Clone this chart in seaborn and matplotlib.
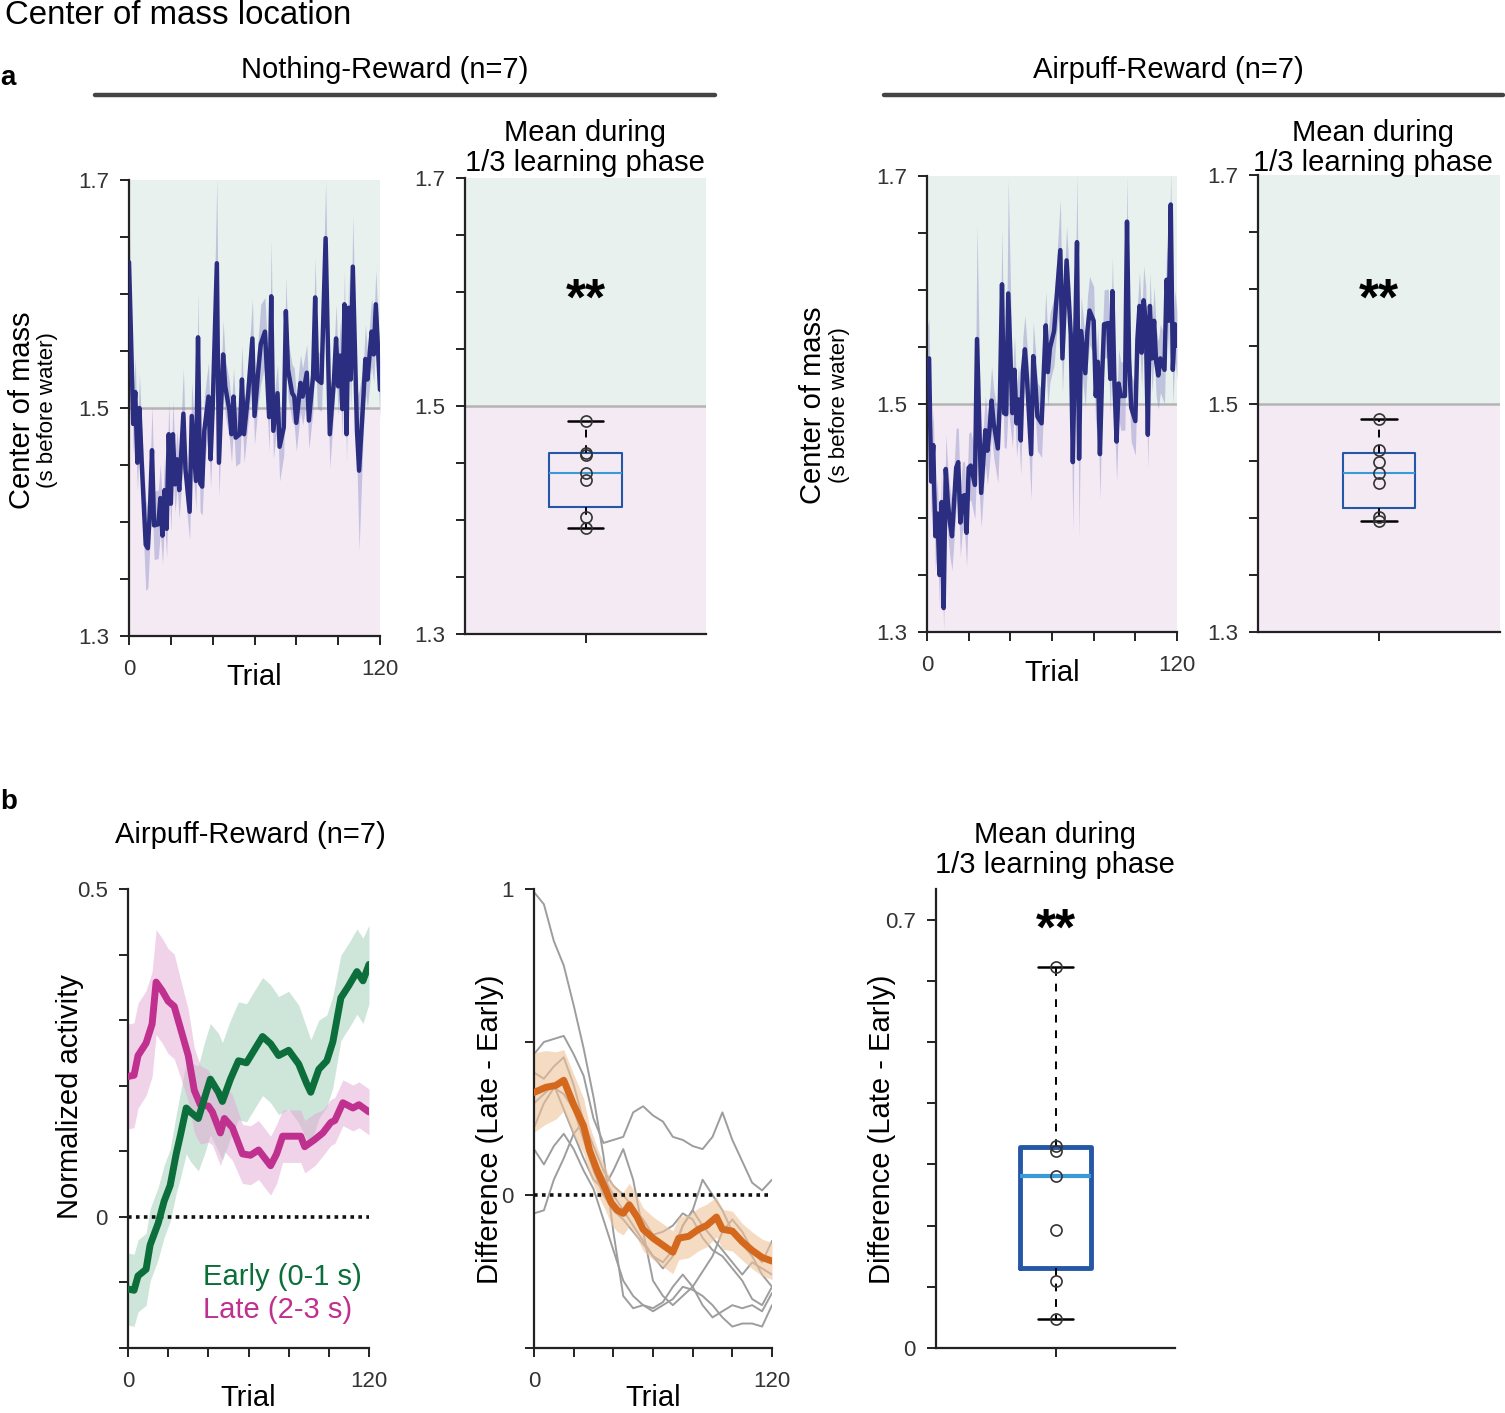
import numpy as np
import pandas as pd
import matplotlib
matplotlib.use("Agg")
import matplotlib.pyplot as plt
import seaborn as sns
from matplotlib.lines import Line2D

# --- data: panel a, center of mass per trial (mean and sem) ---
nr_trial = [0, 1, 2, 3, 4, 5, 6, 8, 9, 10,
            11, 12, 14, 15, 16, 17, 18, 19, 20, 21,
            22, 23, 24, 26, 27, 29, 30, 32, 33, 34,
            35, 36, 38, 39, 40, 42, 43, 45, 46, 48,
            49, 50, 51, 53, 54, 55, 57, 59, 60, 62,
            63, 65, 67, 68, 69, 71, 72, 74, 75, 76,
            78, 79, 80, 82, 83, 85, 86, 88, 89, 90,
            92, 94, 96, 98, 99, 100, 101, 102, 103, 104,
            105, 106, 107, 109, 110, 112, 113, 114, 116, 117,
            118, 120]
nr_mean = [1.628, 1.560, 1.486, 1.514, 1.452, 1.500, 1.455, 1.380, 1.377, 1.410,
           1.463, 1.397, 1.398, 1.421, 1.388, 1.428, 1.394, 1.477, 1.416, 1.477,
           1.433, 1.455, 1.428, 1.495, 1.446, 1.409, 1.493, 1.436, 1.562, 1.434,
           1.431, 1.480, 1.510, 1.455, 1.500, 1.627, 1.452, 1.547, 1.519, 1.498,
           1.477, 1.510, 1.474, 1.477, 1.525, 1.477, 1.513, 1.561, 1.493, 1.537,
           1.556, 1.567, 1.492, 1.598, 1.480, 1.513, 1.466, 1.483, 1.585, 1.534,
           1.513, 1.510, 1.487, 1.522, 1.510, 1.531, 1.489, 1.528, 1.597, 1.525,
           1.522, 1.649, 1.477, 1.525, 1.561, 1.519, 1.546, 1.499, 1.591, 1.477,
           1.588, 1.525, 1.624, 1.480, 1.445, 1.507, 1.543, 1.525, 1.567, 1.547,
           1.591, 1.516]
nr_sem = [0.045, 0.03, 0.025, 0.03, 0.025, 0.03, 0.03, 0.04, 0.035, 0.03,
          0.04, 0.03, 0.03, 0.03, 0.025, 0.03, 0.025, 0.03, 0.025, 0.03,
          0.025, 0.025, 0.025, 0.04, 0.025, 0.025, 0.03, 0.025, 0.04, 0.025,
          0.025, 0.03, 0.03, 0.025, 0.025, 0.075, 0.03, 0.03, 0.025, 0.025,
          0.025, 0.025, 0.025, 0.025, 0.03, 0.025, 0.025, 0.035, 0.025, 0.03,
          0.035, 0.03, 0.03, 0.05, 0.025, 0.025, 0.03, 0.025, 0.03, 0.025,
          0.025, 0.025, 0.025, 0.025, 0.025, 0.025, 0.025, 0.03, 0.035, 0.025,
          0.025, 0.05, 0.03, 0.025, 0.03, 0.025, 0.03, 0.025, 0.03, 0.025,
          0.03, 0.025, 0.045, 0.03, 0.07, 0.03, 0.03, 0.025, 0.03, 0.025,
          0.03, 0.025]

ar_trial = [0, 1, 2, 3, 4, 5, 6, 7, 8, 9,
            10, 11, 12, 14, 15, 16, 17, 18, 19, 20,
            21, 23, 24, 26, 28, 29, 30, 31, 32, 34,
            35, 36, 37, 38, 39, 41, 42, 43, 44, 45,
            46, 47, 48, 50, 51, 52, 53, 55, 57, 58,
            59, 61, 62, 64, 65, 67, 69, 70, 71, 72,
            73, 74, 76, 77, 78, 80, 81, 82, 83, 84,
            85, 87, 88, 89, 90, 91, 92, 93, 95, 96,
            97, 98, 100, 101, 102, 103, 104, 105, 106, 107,
            108, 109, 110, 111, 112, 114, 115, 116, 117, 118,
            119, 120]
ar_mean = [1.536, 1.540, 1.432, 1.464, 1.384, 1.404, 1.350, 1.414, 1.321, 1.443,
           1.414, 1.396, 1.384, 1.444, 1.449, 1.396, 1.419, 1.420, 1.387, 1.444,
           1.446, 1.429, 1.557, 1.422, 1.477, 1.459, 1.477, 1.503, 1.483, 1.461,
           1.504, 1.605, 1.492, 1.491, 1.597, 1.492, 1.530, 1.483, 1.504, 1.468,
           1.528, 1.548, 1.522, 1.456, 1.542, 1.519, 1.489, 1.483, 1.569, 1.528,
           1.549, 1.564, 1.588, 1.635, 1.540, 1.626, 1.561, 1.449, 1.546, 1.642,
           1.452, 1.564, 1.527, 1.564, 1.582, 1.573, 1.507, 1.537, 1.456, 1.522,
           1.570, 1.571, 1.522, 1.599, 1.516, 1.467, 1.518, 1.507, 1.507, 1.660,
           1.540, 1.497, 1.485, 1.557, 1.586, 1.545, 1.591, 1.573, 1.473, 1.586,
           1.540, 1.573, 1.537, 1.525, 1.540, 1.530, 1.609, 1.573, 1.675, 1.530,
           1.570, 1.551]
ar_sem = [0.03, 0.035, 0.03, 0.03, 0.03, 0.03, 0.03, 0.03, 0.02, 0.03,
          0.03, 0.03, 0.03, 0.035, 0.03, 0.03, 0.03, 0.03, 0.03, 0.03,
          0.03, 0.03, 0.1, 0.03, 0.03, 0.03, 0.03, 0.03, 0.03, 0.03,
          0.03, 0.05, 0.03, 0.03, 0.1, 0.03, 0.03, 0.03, 0.03, 0.03,
          0.03, 0.03, 0.03, 0.04, 0.03, 0.03, 0.03, 0.03, 0.03, 0.03,
          0.03, 0.03, 0.03, 0.045, 0.03, 0.03, 0.03, 0.06, 0.03, 0.06,
          0.07, 0.03, 0.03, 0.03, 0.03, 0.03, 0.03, 0.03, 0.04, 0.03,
          0.03, 0.03, 0.03, 0.03, 0.03, 0.035, 0.03, 0.03, 0.03, 0.04,
          0.03, 0.03, 0.03, 0.03, 0.03, 0.03, 0.03, 0.03, 0.03, 0.03,
          0.03, 0.03, 0.03, 0.03, 0.03, 0.03, 0.03, 0.03, 0.03, 0.03,
          0.03, 0.03]

# per-mouse means during 1/3 learning phase
nr_box = [1.487, 1.459, 1.457, 1.441, 1.435, 1.403, 1.393]
ar_box = [1.486, 1.459, 1.4485, 1.439, 1.430, 1.401, 1.397]

# --- data: panel b ---
early_trial = [0, 3, 5, 9, 11, 15, 18, 21, 24, 26, 29, 31, 35, 38, 41, 45, 47, 51,
               55, 59, 62, 67, 71, 75, 80, 85, 89, 91, 95, 99, 102, 106, 110, 114,
               117, 120]
early_mean = [-0.110, -0.112, -0.090, -0.080, -0.043, -0.010, 0.024, 0.048, 0.096,
              0.123, 0.166, 0.160, 0.150, 0.180, 0.210, 0.190, 0.176, 0.210, 0.238,
              0.235, 0.250, 0.275, 0.264, 0.246, 0.254, 0.233, 0.203, 0.190, 0.225,
              0.238, 0.267, 0.334, 0.353, 0.374, 0.360, 0.385]
early_sem = [0.055, 0.055, 0.055, 0.055, 0.055, 0.055, 0.055, 0.055, 0.06, 0.065,
             0.07, 0.075, 0.08, 0.085, 0.085, 0.09, 0.09, 0.09, 0.09, 0.09, 0.09,
             0.09, 0.09, 0.09, 0.09, 0.09, 0.085, 0.08, 0.075, 0.07, 0.07, 0.065,
             0.065, 0.065, 0.065, 0.06]

late_trial = [0, 3, 5, 9, 12, 14, 17, 20, 23, 26, 30, 33, 36, 40, 42, 46, 48, 52,
              57, 61, 65, 71, 74, 77, 82, 86, 88, 93, 97, 101, 103, 107, 112, 115,
              120]
late_mean = [0.214, 0.216, 0.246, 0.265, 0.294, 0.358, 0.345, 0.329, 0.321, 0.289,
             0.246, 0.193, 0.171, 0.169, 0.160, 0.128, 0.150, 0.136, 0.096, 0.094,
             0.102, 0.078, 0.096, 0.123, 0.123, 0.123, 0.107, 0.118, 0.128, 0.144,
             0.147, 0.174, 0.166, 0.171, 0.160]
late_sem = [0.08, 0.08, 0.08, 0.08, 0.08, 0.08, 0.08, 0.08, 0.08, 0.075, 0.07,
            0.065, 0.06, 0.055, 0.05, 0.05, 0.05, 0.05, 0.045, 0.045, 0.045, 0.045,
            0.045, 0.04, 0.04, 0.04, 0.04, 0.04, 0.035, 0.035, 0.035, 0.035, 0.035,
            0.035, 0.035]

diff_trial = [0, 6, 11, 15, 20, 25, 28, 32, 36, 39, 42, 45, 48, 52, 55, 60, 65, 70,
              73, 78, 83, 87, 92, 95, 100, 105, 110, 115, 120]
diff_mean = [0.335, 0.352, 0.358, 0.375, 0.295, 0.226, 0.146, 0.077, 0.020, -0.026,
             -0.050, -0.060, -0.032, -0.072, -0.112, -0.141, -0.164, -0.187, -0.141,
             -0.135, -0.112, -0.100, -0.072, -0.112, -0.118, -0.153, -0.181, -0.204,
             -0.216]
diff_sem = [0.13, 0.12, 0.11, 0.10, 0.10, 0.09, 0.08, 0.075, 0.07, 0.07, 0.07, 0.07,
            0.07, 0.07, 0.07, 0.07, 0.07, 0.07, 0.07, 0.07, 0.07, 0.07, 0.065, 0.065,
            0.065, 0.06, 0.06, 0.06, 0.06]

mouse_trial = [0, 5, 10, 15, 20, 25, 30, 35, 40, 45, 50, 55, 60, 65, 70, 75, 80, 85,
               90, 95, 100, 105, 110, 115, 120]
mouse_diff = {
    "m1": [0.99, 0.95, 0.83, 0.75, 0.62, 0.48, 0.32, 0.13, -0.12, -0.33, -0.37, -0.36,
           -0.38, -0.36, -0.34, -0.30, -0.31, -0.33, -0.36, -0.40, -0.43, -0.42, -0.42,
           -0.43, -0.36],
    "m2": [0.46, 0.50, 0.51, 0.52, 0.46, 0.39, 0.25, 0.17, 0.18, 0.19, 0.27, 0.29,
           0.26, 0.24, 0.19, 0.18, 0.16, 0.15, 0.19, 0.27, 0.18, 0.11, 0.04, 0.015, 0.05],
    "m3": [0.40, 0.38, 0.42, 0.45, 0.36, 0.24, 0.12, 0.06, 0.00, -0.05, -0.10, -0.15,
           -0.20, -0.24, -0.20, -0.10, -0.05, 0.05, 0.00, -0.05, -0.12, -0.16, -0.20,
           -0.26, -0.30],
    "m4": [0.30, 0.33, 0.36, 0.28, 0.20, 0.12, 0.05, 0.02, 0.08, 0.15, 0.05, -0.12,
           -0.28, -0.33, -0.36, -0.33, -0.30, -0.25, -0.20, -0.12, -0.08, -0.12, -0.18,
           -0.22, -0.15],
    "m5": [0.15, 0.10, 0.16, 0.20, 0.15, 0.08, 0.02, -0.08, -0.18, -0.28, -0.33, -0.36,
           -0.37, -0.35, -0.30, -0.26, -0.30, -0.36, -0.40, -0.38, -0.36, -0.37, -0.36,
           -0.38, -0.32],
    "m6": [-0.06, -0.05, 0.05, 0.12, 0.20, 0.24, 0.16, 0.08, 0.03, 0.00, -0.04, -0.08,
           -0.13, -0.12, -0.10, -0.06, -0.08, -0.14, -0.18, -0.20, -0.24, -0.28, -0.34,
           -0.36, -0.30],
    "m7": [0.22, 0.30, 0.35, 0.33, 0.28, 0.18, 0.08, 0.00, -0.05, -0.08, -0.12, -0.16,
           -0.20, -0.22, -0.18, -0.10, -0.05, -0.10, -0.14, -0.18, -0.22, -0.26, -0.22,
           -0.24, -0.26],
}
diff_box = [0.623, 0.330, 0.322, 0.281, 0.192, 0.110, 0.048]

# --- colors ---
BG_GREEN = "#e8f1ed"
BG_PINK = "#f4eaf4"
NAVY = "#2b2e80"
BOX_BLUE = "#2557a7"
MED_BLUE = "#3a9ad8"
GREEN = "#0b6e3b"
MAGENTA = "#c0308e"
ORANGE = "#d4691e"

sns.set_theme(style="ticks")
plt.rcParams["font.family"] = ["Liberation Sans", "DejaVu Sans"]
plt.rcParams["text.color"] = "black"
plt.rcParams["axes.labelcolor"] = "black"

W, H = 1505, 1413
fig = plt.figure(figsize=(W / 100, H / 100), dpi=100)


def add_ax(x0, y0, x1, y1):
    return fig.add_axes([x0 / W, 1 - y1 / H, (x1 - x0) / W, (y1 - y0) / H])


def style(ax):
    sns.despine(ax=ax)
    for s in ("left", "bottom"):
        ax.spines[s].set_linewidth(1.6)
        ax.spines[s].set_color("#222222")
    ax.tick_params(direction="out", length=6.5, width=1.4, color="#222222",
                   labelsize=16, labelcolor="#333333", pad=8)
    ax.tick_params(axis="x", pad=10)


def set_ticks(ax, axis, ticks, shown):
    labels = [t if t in shown else "" for t in ticks]
    vals = [float(t) for t in ticks]
    if axis == "x":
        ax.set_xticks(vals, labels)
    else:
        ax.set_yticks(vals, labels)


def draw_box(ax, vals, lw_box, lw_med):
    q1, med, q3 = np.percentile(vals, [25, 50, 75], method="hazen")
    stats = [dict(med=med, q1=q1, q3=q3, whislo=min(vals), whishi=max(vals), fliers=[])]
    ax.bxp(stats, positions=[0], widths=0.3, showfliers=False, manage_ticks=False,
           capwidths=0.145,
           boxprops=dict(color=BOX_BLUE, lw=lw_box),
           medianprops=dict(color=MED_BLUE, lw=lw_med),
           whiskerprops=dict(color="black", lw=1.4, ls=(0, (4, 4))),
           capprops=dict(color="black", lw=1.8))
    ax.plot(np.zeros(len(vals)), vals, ls="none", marker="o", ms=8, mfc="none",
            mec="#333333", mew=1.2, zorder=5)
    ax.set_xlim(-0.5, 0.5)
    ax.set_xticks([0], [""])


def com_line(ax, trial, mean, sem):
    ax.axhspan(1.5, 1.7, color=BG_GREEN, lw=0, zorder=0)
    ax.axhspan(1.3, 1.5, color=BG_PINK, lw=0, zorder=0)
    ax.axhline(1.5, color="#b4b4b4", lw=1.8, zorder=1)
    m = np.array(mean)
    s = np.array(sem)
    ax.fill_between(trial, m - s, m + s, color="#8f8fc9", alpha=0.45, lw=0, zorder=2)
    sns.lineplot(x=trial, y=mean, ax=ax, color=NAVY, lw=3.2, zorder=3)
    ax.set_xlim(0, 120)
    ax.set_ylim(1.3, 1.7)
    style(ax)
    set_ticks(ax, "x", ["0", "20", "40", "60", "80", "100", "120"], ["0", "120"])
    set_ticks(ax, "y", ["1.3", "1.35", "1.4", "1.45", "1.5", "1.55", "1.6", "1.65", "1.7"],
              ["1.3", "1.5", "1.7"])
    ax.set_xlabel("Trial", fontsize=21, va="center")
    ax.xaxis.set_label_coords(0.5, -0.09)
    ax.set_ylabel("")


def com_box(ax, vals, star_y):
    ax.axhspan(1.5, 1.7, color=BG_GREEN, lw=0, zorder=0)
    ax.axhspan(1.3, 1.5, color=BG_PINK, lw=0, zorder=0)
    ax.axhline(1.5, color="#b4b4b4", lw=1.8, zorder=1)
    draw_box(ax, vals, 1.5, 1.5)
    ax.set_ylim(1.3, 1.7)
    style(ax)
    set_ticks(ax, "y", ["1.3", "1.35", "1.4", "1.45", "1.5", "1.55", "1.6", "1.65", "1.7"],
              ["1.3", "1.5", "1.7"])
    ax.text(0, star_y, "**", ha="center", va="baseline", fontsize=37, fontweight="bold")


# --- panel a ---
ax1 = add_ax(129, 180, 380, 636)
com_line(ax1, nr_trial, nr_mean, nr_sem)
ax2 = add_ax(465, 178, 706, 634)
com_box(ax2, nr_box, 1.5798)
ax3 = add_ax(927, 176, 1177, 632)
com_line(ax3, ar_trial, ar_mean, ar_sem)
ax4 = add_ax(1258, 175, 1500, 632)
com_box(ax4, ar_box, 1.5775)

fig.text(5 / W, 1 - 16 / H, "Center of mass location", fontsize=23.8, ha="left", va="center")
fig.text(0, 1 - 78 / H, "a", fontsize=20, fontweight="bold", ha="left", va="center")
fig.text(0, 1 - 802 / H, "b", fontsize=20, fontweight="bold", ha="left", va="center")

for cx, x0, x1, label in [(385, 95, 715, "Nothing-Reward (n=7)"),
                          (1168, 884, 1503, "Airpuff-Reward (n=7)")]:
    fig.text(cx / W, 1 - 70 / H, label, fontsize=21, ha="center", va="center")
    fig.add_artist(Line2D([x0 / W, x1 / W], [1 - 95 / H, 1 - 95 / H],
                          color="#444444", lw=3.2))

for cx, y1, y2 in [(585, 133, 163), (1373, 133, 163), (1055, 835, 865)]:
    fig.text(cx / W, 1 - y1 / H, "Mean during", fontsize=21, ha="center", va="center")
    fig.text(cx / W, 1 - y2 / H, "1/3 learning phase", fontsize=21, ha="center", va="center")

for cx, cy in [(22, 410), (813, 405)]:
    fig.text(cx / W, 1 - cy / H, "Center of mass", fontsize=21, rotation=90,
             ha="center", va="center")
    fig.text((cx + 26) / W, 1 - cy / H, "(s before water)", fontsize=16, rotation=90,
             ha="center", va="center")

# --- panel b: early / late activity ---
b1 = add_ax(128, 889, 369, 1348)
for trial, mean, sem, band in [(early_trial, early_mean, early_sem, "#9fcdb6"),
                               (late_trial, late_mean, late_sem, "#e2a9d4")]:
    m = np.array(mean)
    s = np.array(sem)
    b1.fill_between(trial, m - s, m + s, color=band, alpha=0.5, lw=0, zorder=1)
sns.lineplot(x=late_trial, y=late_mean, ax=b1, color=MAGENTA, lw=5, zorder=3)
sns.lineplot(x=early_trial, y=early_mean, ax=b1, color=GREEN, lw=5, zorder=4)
b1.axhline(0, color="#111111", lw=2.6, ls=(0, (1, 1.2)), zorder=2)
b1.set_xlim(0, 120)
b1.set_ylim(-0.2, 0.5)
style(b1)
set_ticks(b1, "x", ["0", "20", "40", "60", "80", "100", "120"], ["0", "120"])
set_ticks(b1, "y", ["-0.2", "-0.1", "0", "0.1", "0.2", "0.3", "0.4", "0.5"], ["0", "0.5"])
b1.set_xlabel("Trial", fontsize=21, va="center")
b1.xaxis.set_label_coords(0.5, -0.108)
b1.set_ylabel("Normalized activity", fontsize=21, va="center")
b1.yaxis.set_label_coords(-0.24, 0.547)
b1.text(0.311, 0.155, "Early (0-1 s)", color=GREEN, fontsize=21, transform=b1.transAxes,
        ha="left", va="center")
b1.text(0.311, 0.083, "Late (2-3 s)", color=MAGENTA, fontsize=21, transform=b1.transAxes,
        ha="left", va="center")
fig.text(250 / W, 1 - 835 / H, "Airpuff-Reward (n=7)", fontsize=21, ha="center", va="center")

# --- panel b: difference ---
b2 = add_ax(534, 889, 772, 1348)
df_mice = pd.DataFrame([(k, t, v) for k, vals in mouse_diff.items()
                        for t, v in zip(mouse_trial, vals)],
                       columns=["mouse", "trial", "diff"])
sns.lineplot(data=df_mice, x="trial", y="diff", units="mouse", estimator=None, ax=b2,
             color="#9d9d9d", lw=1.4, zorder=1)
dm = np.array(diff_mean)
ds = np.array(diff_sem)
b2.fill_between(diff_trial, dm - ds, dm + ds, color="#f0c39c", alpha=0.6, lw=0, zorder=2)
sns.lineplot(x=diff_trial, y=diff_mean, ax=b2, color=ORANGE, lw=5, zorder=4)
b2.axhline(0, color="#111111", lw=2.6, ls=(0, (1, 1.2)), zorder=3)
b2.set_xlim(0, 120)
b2.set_ylim(-0.5, 1)
style(b2)
set_ticks(b2, "x", ["0", "20", "40", "60", "80", "100", "120"], ["0", "120"])
set_ticks(b2, "y", ["-0.5", "0", "0.5", "1"], ["0", "1"])
b2.set_xlabel("Trial", fontsize=21, va="center")
b2.xaxis.set_label_coords(0.5, -0.108)
b2.set_ylabel("Difference (Late - Early)", fontsize=21, va="center")
b2.yaxis.set_label_coords(-0.185, 0.477)

# --- panel b: box of differences ---
b3 = add_ax(936, 889, 1175, 1348)
draw_box(b3, diff_box, 3.5, 3)
b3.set_ylim(0, 0.75)
style(b3)
set_ticks(b3, "y", ["0", "0.1", "0.2", "0.3", "0.4", "0.5", "0.6", "0.7"], ["0", "0.7"])
b3.set_ylabel("Difference (Late - Early)", fontsize=21, va="center")
b3.yaxis.set_label_coords(-0.226, 0.477)
b3.text(0, 0.659, "**", ha="center", va="baseline", fontsize=37, fontweight="bold")

fig.savefig("out.png", dpi=100)
